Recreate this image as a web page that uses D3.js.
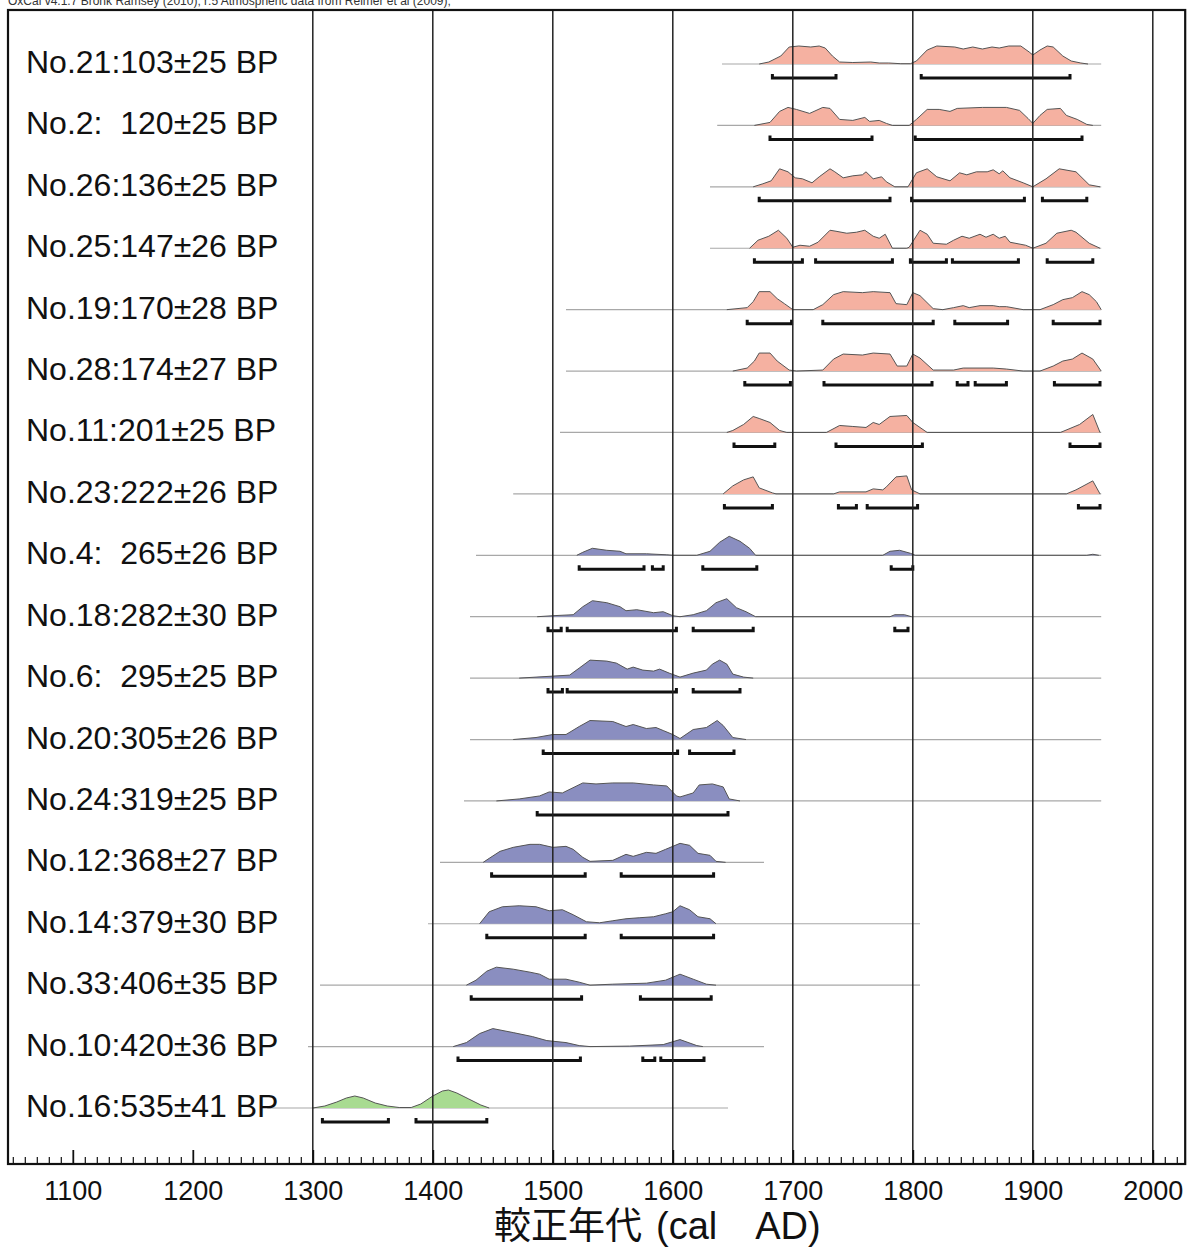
<!DOCTYPE html>
<html><head><meta charset="utf-8">
<script src="https://cdn.jsdelivr.net/npm/d3@7"></script>
<style>body{margin:0;background:#fff}svg{display:block}</style>
</head><body>
<svg id="chart" width="1197" height="1247"></svg>
<script>
// ---------- DATA ----------
const labels = ["No.21:103±25 BP","No.2:  120±25 BP","No.26:136±25 BP","No.25:147±26 BP","No.19:170±28 BP","No.28:174±27 BP","No.11:201±25 BP","No.23:222±26 BP","No.4:  265±26 BP","No.18:282±30 BP","No.6:  295±25 BP","No.20:305±26 BP","No.24:319±25 BP","No.12:368±27 BP","No.14:379±30 BP","No.33:406±35 BP","No.10:420±36 BP","No.16:535±41 BP"];
const groups = ["pink","pink","pink","pink","pink","pink","pink","pink","blue","blue","blue","blue","blue","blue","blue","blue","blue","green"];
const lineStart = [1641,1637,1631,1631,1511,1511,1506,1467,1436,1431,1431,1431,1426,1406,1396,1306,1296,1262];
const lineEnd   = [1957,1957,1957,1957,1957,1957,1957,1957,1957,1957,1957,1957,1957,1676,1806,1806,1676,1646];
// probability curves: [year, relative height]
const densities = [
  [[1672,0],[1680,2],[1690,8],[1697,17],[1705,18],[1715,17],[1722,18],[1727,16],[1733,8],[1739,2],[1750,1.5],[1765,2],[1772,1],[1780,1],[1790,0.3],[1798,0.3],[1803,3],[1812,14],[1820,18],[1835,17],[1842,15],[1850,17],[1858,15],[1866,17],[1872,16],[1880,18],[1890,18],[1897,12],[1900,9],[1906,14],[1912,18],[1917,17],[1925,8],[1932,3],[1940,1],[1946,0]],
  [[1668,0],[1681,3],[1689,14],[1696,18],[1703,16],[1714,12],[1725,18],[1731,17],[1739,6],[1750,5],[1760,8],[1764,4],[1772,5],[1778,2],[1783,0],[1797,0],[1803,6],[1812,16],[1822,16],[1831,14],[1837,17],[1858,18],[1878,18],[1889,15],[1896,7],[1900,2],[1906,10],[1912,16],[1923,17],[1928,10],[1937,6],[1945,1],[1950,0]],
  [[1667,0],[1675,3],[1682,6],[1689,18],[1696,15],[1702,9],[1708,8],[1716,4],[1722,10],[1731,18],[1735,15],[1742,9],[1750,11],[1758,12],[1761,15],[1767,8],[1774,10],[1778,5],[1785,0],[1796,0],[1803,14],[1812,18],[1820,10],[1831,6],[1839,14],[1845,12],[1853,15],[1862,15],[1867,17],[1872,13],[1875,16],[1881,9],[1892,4],[1900,0],[1911,8],[1922,18],[1936,15],[1947,2],[1956,0]],
  [[1664,0],[1671,8],[1680,12],[1688,18],[1695,10],[1700,1],[1706,3],[1714,2],[1721,6],[1731,18],[1736,17],[1745,15],[1753,16],[1760,18],[1767,12],[1772,10],[1777,14],[1783,0],[1795,0],[1797,1],[1806,18],[1812,14],[1817,5],[1828,4],[1834,8],[1841,12],[1847,10],[1856,14],[1861,11],[1867,14],[1872,10],[1877,12],[1881,6],[1894,3],[1900,0],[1911,5],[1920,15],[1932,18],[1936,16],[1947,5],[1956,0]],
  [[1645,0],[1662,2],[1667,8],[1672,18],[1681,18],[1687,11],[1693,6],[1700,0],[1717,0],[1725,5],[1734,15],[1742,18],[1758,17],[1767,18],[1781,17],[1786,6],[1795,5],[1800,17],[1806,14],[1817,1],[1825,0],[1834,2],[1842,4],[1847,2],[1856,4],[1867,4],[1872,3],[1878,3],[1892,0],[1906,0],[1917,5],[1925,10],[1933,12],[1941,18],[1947,15],[1953,8],[1957,0]],
  [[1650,0],[1662,3],[1668,10],[1672,18],[1681,18],[1687,10],[1697,1],[1703,0],[1725,1],[1734,12],[1742,17],[1758,16],[1767,18],[1781,17],[1787,5],[1795,5],[1800,17],[1806,13],[1817,1],[1834,1],[1842,3],[1856,3],[1867,3],[1878,2],[1892,0],[1906,0],[1917,5],[1925,10],[1933,12],[1941,18],[1950,12],[1957,0]],
  [[1645,0],[1650,2],[1659,8],[1667,16],[1672,14],[1681,10],[1689,2],[1695,0],[1728,0],[1739,7],[1750,6],[1761,5],[1767,10],[1772,8],[1781,16],[1795,17],[1800,10],[1812,0],[1923,0],[1931,4],[1939,8],[1950,18],[1956,0]],
  [[1642,0],[1650,8],[1659,14],[1667,17],[1672,6],[1683,1],[1686,0],[1734,0],[1739,2],[1761,2],[1767,5],[1775,4],[1778,7],[1786,17],[1795,18],[1799,4],[1806,0],[1928,0],[1936,4],[1950,13],[1956,0]],
  [[1520,0],[1525,3],[1533,7],[1545,5],[1556,4],[1561,1.5],[1578,1.5],[1595,0.5],[1600,0],[1620,0],[1631,4],[1639,13],[1647,19],[1656,14],[1664,7],[1669,0],[1775,0],[1781,4],[1789,5],[1798,2],[1802,0],[1945,0],[1950,1],[1955,0]],
  [[1487,0],[1500,1],[1517,2],[1525,10],[1533,16],[1545,14],[1556,10],[1561,6],[1570,7],[1584,4],[1592,5],[1600,1],[1606,0],[1617,2],[1628,6],[1636,14],[1645,18],[1653,9],[1661,5],[1669,0],[1781,0],[1785,2],[1793,2],[1799,0]],
  [[1472,0],[1500,2],[1514,3],[1522,10],[1531,18],[1545,17],[1553,15],[1562,9],[1567,11],[1575,8],[1584,7],[1589,9],[1597,5],[1606,1],[1617,5],[1628,8],[1633,14],[1639,18],[1645,14],[1650,4],[1659,1],[1667,0]],
  [[1467,0],[1486,2],[1500,5],[1511,5],[1522,13],[1531,19],[1550,18],[1561,13],[1567,15],[1578,11],[1586,12],[1592,9],[1600,5],[1606,1],[1617,10],[1628,12],[1637,19],[1642,14],[1650,2],[1661,0]],
  [[1453,0],[1472,2],[1489,5],[1497,9],[1508,8],[1525,18],[1536,17],[1550,18],[1567,18],[1584,16],[1595,15],[1603,5],[1606,4],[1617,8],[1622,16],[1633,17],[1642,14],[1647,2],[1656,0]],
  [[1442,0],[1447,4],[1456,11],[1467,15],[1481,18],[1489,18],[1500,15],[1511,16],[1517,13],[1525,5],[1531,1],[1550,2],[1561,8],[1567,6],[1578,10],[1586,9],[1594,13],[1606,19],[1614,17],[1621,9],[1631,7],[1636,1],[1644,0]],
  [[1439,0],[1447,12],[1458,17],[1472,18],[1486,17],[1497,13],[1508,14],[1517,9],[1528,2],[1539,1],[1550,3],[1561,5],[1572,6],[1584,7],[1594,10],[1600,12],[1606,18],[1614,14],[1621,7],[1631,5],[1636,0]],
  [[1428,0],[1436,5],[1445,14],[1453,18],[1467,16],[1481,13],[1489,11],[1497,6],[1511,6],[1522,3],[1531,0],[1550,1],[1578,2],[1594,5],[1606,11],[1617,6],[1628,1],[1636,0]],
  [[1417,0],[1428,4],[1439,13],[1450,18],[1467,14],[1483,10],[1495,6],[1511,4],[1522,1],[1531,0],[1564,0.5],[1592,2],[1606,7],[1620,1],[1625,0]],
  [[1300,0],[1310,2],[1320,6],[1328,10],[1335,12],[1342,10],[1352,5],[1362,2],[1372,0.5],[1382,0.5],[1390,4],[1400,12],[1408,17],[1413,18],[1420,15],[1430,9],[1440,3],[1447,0]]
];
// highest-probability ranges (brackets)
const ranges = [
  [[1683,1736],[1807,1931]],
  [[1681,1766],[1802,1941]],
  [[1672,1781],[1799,1893],[1908,1945]],
  [[1668,1708],[1719,1783],[1798,1828],[1833,1888],[1912,1950]],
  [[1662,1699],[1725,1817],[1835,1879],[1917,1956]],
  [[1660,1698],[1726,1816],[1837,1846],[1852,1878],[1918,1956]],
  [[1651,1685],[1736,1808],[1931,1956]],
  [[1643,1683],[1738,1753],[1762,1804],[1938,1956]],
  [[1522,1576],[1583,1592],[1625,1670],[1782,1800]],
  [[1496,1507],[1512,1603],[1617,1667],[1785,1796]],
  [[1496,1508],[1512,1603],[1617,1656]],
  [[1492,1604],[1614,1651]],
  [[1487,1646]],
  [[1449,1527],[1557,1634]],
  [[1445,1527],[1557,1634]],
  [[1432,1524],[1573,1632]],
  [[1421,1523],[1575,1585],[1590,1626]],
  [[1308,1363],[1386,1445]]
];
const tickYears = [1100,1200,1300,1400,1500,1600,1700,1800,1900,2000];
const gridYears = [1300,1400,1500,1600,1700,1800,1900,2000];
const headerText = "OxCal v4.1.7 Bronk Ramsey (2010); r:5 Atmospheric data from Reimer et al (2009);";
const axisTitleCJK = "較正年代";
const axisTitleLatin = "(cal\u3000AD)";

// ---------- CHART ----------
const svg = d3.select("#chart");
const fillColor = {pink:"#f5b1a1", blue:"#8a8ec0", green:"#a8db91"};
const plotLeft = 8, plotRight = 1185.2, plotTop = 10, plotBottom = 1164;
const x = d3.scaleLinear().domain([1046, 2027]).range([plotLeft, plotRight]);
const rowY = d3.scalePoint().domain(labels).range([64, 1108]);
const hScale = d3.scaleLinear().domain([0, 20]).range([0, 20]);
const font = "'Liberation Sans', Arial, Helvetica, sans-serif";

svg.append("text").attr("x", 8).attr("y", 5).attr("font-family", font)
  .attr("font-size", 12).attr("fill", "#333").text(headerText);

const rows = svg.append("g");
labels.forEach((lab, i) => {
  const base = rowY(lab);
  const g = rows.append("g");
  g.append("line").attr("x1", x(lineStart[i])).attr("x2", x(lineEnd[i]))
    .attr("y1", base).attr("y2", base).attr("stroke", "#a8a8a8").attr("stroke-width", 1.2);
  const area = d3.area().x(d => x(d[0])).y0(base).y1(d => base - hScale(d[1]));
  const line = d3.line().x(d => x(d[0])).y(d => base - hScale(d[1]));
  g.append("path").attr("d", area(densities[i])).attr("fill", fillColor[groups[i]]);
  g.append("path").attr("d", line(densities[i])).attr("fill", "none")
    .attr("stroke", "#555").attr("stroke-width", 1).attr("stroke-linejoin", "round");
  const by = base + 14;
  ranges[i].forEach(r => {
    g.append("path")
      .attr("d", `M${x(r[0])},${by-4}V${by}H${x(r[1])}V${by-4}`)
      .attr("fill", "none").attr("stroke", "#111").attr("stroke-width", 3);
  });
  svg.append("text").attr("x", 26).attr("y", base + 9)
    .attr("font-family", font).attr("font-size", 32).attr("fill", "#111")
    .attr("xml:space", "preserve").style("white-space", "pre").text(lab);
});

// grid lines
svg.append("g").selectAll("line").data(gridYears).join("line")
  .attr("x1", d => x(d)).attr("x2", d => x(d)).attr("y1", plotTop).attr("y2", plotBottom)
  .attr("stroke", "#222").attr("stroke-width", 1.5);

// axis: minor ticks
const minorYears = d3.range(1050, 2030, 10).filter(d => d % 100 !== 0);
const minorAxis = d3.axisBottom(x).tickValues(minorYears).tickSize(-7).tickFormat("");
svg.append("g").attr("transform", `translate(0,${plotBottom})`).call(minorAxis)
  .call(g => g.select(".domain").remove())
  .call(g => g.selectAll(".tick line").attr("stroke", "#111").attr("stroke-width", 1.2));
const majorAxis = d3.axisBottom(x).tickValues(tickYears).tickSize(-14).tickPadding(17).tickFormat(d3.format("d"));
svg.append("g").attr("transform", `translate(0,${plotBottom})`).call(majorAxis)
  .call(g => g.select(".domain").remove())
  .call(g => g.selectAll(".tick line").attr("stroke", "#111").attr("stroke-width", 1.8))
  .call(g => g.selectAll(".tick text").attr("font-family", font).attr("font-size", 27).attr("fill", "#111"));

// frame
svg.append("rect").attr("x", plotLeft).attr("y", plotTop).attr("width", plotRight - plotLeft).attr("height", plotBottom - plotTop)
  .attr("fill", "none").attr("stroke", "#111").attr("stroke-width", 2.2);

// axis title
const t = svg.append("text").attr("x", 494).attr("y", 1239).attr("fill", "#111").attr("font-family", font)
  .attr("xml:space", "preserve").style("white-space", "pre");
t.append("tspan").attr("font-family", "'Noto Sans CJK JP', sans-serif").attr("font-size", 37).text(axisTitleCJK);
t.append("tspan").attr("dx", 14).attr("font-size", 38).text(axisTitleLatin);
</script>
</body></html>
